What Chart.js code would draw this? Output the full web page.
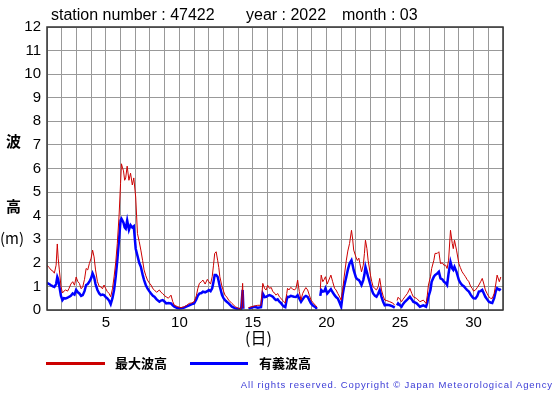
<!DOCTYPE html>
<html><head><meta charset="utf-8">
<script src="https://cdn.jsdelivr.net/npm/chart.js@4/dist/chart.umd.min.js"></script>
<style>
html,body{margin:0;padding:0;background:#fff;}
#wrap{position:relative;width:555px;height:395px;overflow:hidden;font-family:"Liberation Sans",Arial,sans-serif;}
canvas{position:absolute;left:0;top:0;}
.t{position:absolute;white-space:nowrap;color:#000;line-height:1;}
.cjk{font-family:"Noto Sans CJK JP",sans-serif;font-weight:bold;}
</style></head><body>
<div id="wrap">
<canvas id="c" width="555" height="395"></canvas>
<div class="t" style="left:51px;top:7px;font-size:16px;">station number : 47422</div>
<div class="t" style="left:246px;top:7px;font-size:16px;">year : 2022</div>
<div class="t" style="left:342px;top:7px;font-size:16px;">month : 03</div>
<div class="t cjk" style="left:6px;top:133px;font-size:15px;">波</div>
<div class="t cjk" style="left:6px;top:198px;font-size:15px;">高</div>
<div class="t cjk" style="left:0px;top:230px;font-size:15px;font-weight:normal;">(m)</div>
<div class="t cjk" style="left:245px;top:329px;font-size:16px;font-weight:normal;">(日)</div>
<div style="position:absolute;left:46px;top:362px;width:59px;height:3px;background:#cc0000;"></div>
<div class="t cjk" style="left:115px;top:356px;font-size:13px;">最大波高</div>
<div style="position:absolute;left:190px;top:362px;width:58px;height:3px;background:#0000ff;"></div>
<div class="t cjk" style="left:259px;top:356px;font-size:13px;">有義波高</div>
<div class="t" style="right:2px;top:380px;font-size:9.5px;letter-spacing:0.9px;color:#3b3bd6;">All rights reserved. Copyright © Japan Meteorological Agency</div>
</div>
<script>
// time in days (1 = 1st 00:00), gaps as null
const days = [1.0,1.15,1.27,1.4,1.5,1.62,1.7,1.76,1.84,1.95,2.05,2.15,2.27,2.4,2.5,2.62,2.75,2.87,2.98,3.1,3.2,3.32,3.43,3.55,3.66,3.77,3.88,4.0,4.1,4.2,4.3,4.43,4.55,4.66,4.77,4.88,5.0,5.1,5.22,5.33,5.45,5.56,5.67,5.78,5.9,6.0,6.06,6.12,6.2,6.28,6.35,6.45,6.57,6.68,6.8,6.9,7.03,7.15,7.27,7.38,7.5,7.6,7.72,7.83,7.95,8.07,8.2,8.3,8.45,8.64,8.75,8.86,9.0,9.1,9.25,9.43,9.55,9.66,9.89,10.1,10.33,10.5,10.67,10.85,11.0,11.15,11.25,11.36,11.5,11.6,11.75,11.9,12.0,12.12,12.23,12.32,12.4,12.5,12.6,12.68,12.75,12.9,13.0,13.1,13.22,13.35,13.57,13.8,14.02,14.2,14.3,14.35,14.5,14.7,15.1,15.33,15.55,15.67,15.8,15.9,16.0,16.12,16.25,16.35,16.5,16.57,16.68,16.8,16.9,17.0,17.1,17.2,17.3,17.35,17.45,17.57,17.68,17.8,17.92,18.04,18.15,18.27,18.38,18.5,18.6,18.72,18.85,18.95,19.1,19.25,19.35,19.45,19.58,19.64,19.75,19.85,19.93,20.05,20.16,20.3,20.42,20.55,20.65,20.77,20.9,21.0,21.1,21.2,21.35,21.45,21.57,21.7,21.78,21.85,22.0,22.1,22.2,22.27,22.38,22.5,22.58,22.65,22.75,22.83,22.99,23.08,23.17,23.3,23.4,23.52,23.62,23.74,23.85,23.96,24.1,24.3,24.5,24.64,24.72,24.8,24.87,25.0,25.1,25.2,25.33,25.5,25.67,25.8,25.9,26.13,26.35,26.58,26.77,26.85,26.93,27.07,27.15,27.3,27.38,27.53,27.64,27.75,27.88,27.98,28.1,28.2,28.3,28.43,28.55,28.62,28.7,28.84,29.0,29.1,29.22,29.35,29.45,29.55,29.68,29.8,29.9,30.0,30.13,30.25,30.36,30.48,30.59,30.7,30.8,30.92,31.04,31.15,31.27,31.4,31.5,31.6,31.75,31.85];
const maxWave = [1.9,1.8,1.7,1.65,1.56,1.9,2.8,2.2,1.7,1.0,0.72,0.8,0.85,0.8,0.92,1.1,1.2,1.05,1.4,1.2,1.13,0.9,0.98,1.3,1.76,1.7,1.97,2.2,2.54,2.25,1.7,1.2,1.0,0.98,0.9,1.06,0.9,0.78,0.7,0.56,0.9,1.4,2.0,2.82,4.0,5.37,6.2,6.06,5.9,5.5,5.6,6.1,5.5,5.8,5.3,5.6,4.79,3.24,2.9,2.54,2.1,1.7,1.45,1.27,1.15,1.06,0.9,0.85,0.75,0.85,0.75,0.7,0.6,0.56,0.5,0.63,0.35,0.2,0.14,0.1,0.14,0.2,0.28,0.3,0.35,0.6,0.9,1.13,1.2,1.27,1.1,1.3,1.2,1.1,1.41,1.9,2.4,2.47,2.11,1.8,1.41,0.99,0.8,0.63,0.55,0.42,0.28,0.14,0.07,0.06,1.13,0.08,null,0.1,0.17,0.2,0.2,1.13,0.9,0.85,1.05,0.92,0.95,0.78,0.7,0.63,0.7,0.56,0.5,0.42,0.35,0.3,0.7,0.92,0.85,0.96,0.9,0.85,0.9,1.27,0.78,0.42,0.7,0.85,0.95,0.85,0.6,0.42,0.3,0.2,0.12,null,0.9,1.48,1.2,1.3,1.41,1.1,1.27,1.48,1.2,0.92,0.85,0.7,0.55,0.42,0.85,1.4,2.11,2.5,2.82,3.38,3.0,2.54,2.25,2.1,2.2,1.97,1.62,1.9,2.4,2.96,2.6,2.11,1.48,1.2,0.99,0.9,0.85,1.0,1.34,0.85,0.6,0.42,0.4,0.35,0.3,0.2,null,0.4,0.54,0.45,0.35,0.45,0.56,0.7,0.92,0.7,0.56,0.49,0.35,0.42,0.28,0.6,1.06,1.41,1.76,2.11,2.4,2.4,2.47,1.97,2.0,1.9,1.9,1.76,2.11,3.38,2.82,2.6,2.96,2.54,1.97,1.8,1.62,1.5,1.41,1.3,1.2,1.0,0.92,0.8,0.85,0.95,1.06,1.2,1.34,1.1,0.85,0.7,0.56,0.5,0.49,0.7,1.06,1.48,1.2,1.4];
const sigWave = [1.15,1.1,1.05,1.0,0.98,1.1,1.4,1.3,1.0,0.6,0.42,0.5,0.49,0.52,0.56,0.6,0.7,0.65,0.85,0.75,0.7,0.6,0.63,0.8,1.06,1.1,1.2,1.35,1.55,1.4,1.1,0.85,0.7,0.63,0.65,0.63,0.55,0.49,0.4,0.25,0.5,0.85,1.4,2.1,3.0,3.8,3.87,3.8,3.7,3.5,3.45,3.8,3.4,3.6,3.5,3.55,2.6,2.3,2.0,1.83,1.5,1.27,1.05,0.92,0.8,0.7,0.6,0.56,0.45,0.35,0.4,0.42,0.35,0.28,0.3,0.28,0.2,0.14,0.07,0.07,0.1,0.15,0.2,0.25,0.28,0.45,0.6,0.7,0.72,0.78,0.75,0.8,0.85,0.8,0.92,1.2,1.48,1.48,1.41,1.2,0.99,0.63,0.5,0.42,0.35,0.28,0.14,0.07,0.04,0.04,0.85,0.05,null,0.06,0.14,0.1,0.12,0.7,0.55,0.56,0.6,0.63,0.6,0.56,0.45,0.42,0.45,0.35,0.3,0.21,0.15,0.12,0.45,0.56,0.55,0.6,0.58,0.56,0.55,0.63,0.49,0.35,0.45,0.56,0.6,0.56,0.4,0.28,0.18,0.12,0.05,null,0.6,0.85,0.78,0.8,0.92,0.7,0.78,0.88,0.75,0.63,0.55,0.49,0.3,0.14,0.63,1.0,1.41,1.7,1.97,2.11,1.9,1.69,1.38,1.3,1.27,1.2,1.06,1.27,1.5,1.83,1.6,1.41,1.06,0.85,0.7,0.6,0.56,0.7,0.85,0.56,0.35,0.2,0.22,0.2,0.15,0.1,null,0.2,0.28,0.2,0.14,0.25,0.35,0.45,0.56,0.45,0.35,0.28,0.14,0.2,0.14,0.3,0.56,0.85,1.2,1.41,1.48,1.55,1.62,1.34,1.3,1.2,1.15,1.06,1.55,2.04,1.76,1.7,1.83,1.62,1.27,1.15,1.06,1.0,0.92,0.85,0.78,0.65,0.56,0.5,0.49,0.6,0.78,0.8,0.85,0.7,0.56,0.45,0.35,0.32,0.3,0.5,0.78,0.92,0.85,0.9];
const yTicks = [0,1,2,3,4,5,6,7,8,9,10,11,12];
const xLabelDays = [5,10,15,20,25,30];

const toPts = arr => days.map((d,i)=>({x:d,y:arr[i]}));

const frame = {
  id:'frame',
  afterDraw(chart){
    const {ctx, chartArea:a} = chart;
    ctx.save();
    ctx.strokeStyle='#333';
    ctx.lineWidth=1.5;
    ctx.strokeRect(a.left,a.top,a.right-a.left,a.bottom-a.top);
    ctx.restore();
  }
};

new Chart(document.getElementById('c'),{
  type:'line',
  data:{datasets:[
    {label:'最大波高',data:toPts(maxWave),borderColor:'#cc0000',borderWidth:1,pointRadius:0,tension:0,spanGaps:false,order:1},
    {label:'有義波高',data:toPts(sigWave),borderColor:'#0000ff',borderWidth:2.5,pointRadius:0,tension:0,spanGaps:false,order:2}
  ]},
  options:{
    responsive:false,animation:false,devicePixelRatio:1,
    layout:{padding:{left:0,top:27,right:52,bottom:55}},
    plugins:{legend:{display:false},title:{display:false},tooltip:{enabled:false}},
    scales:{
      x:{type:'linear',min:1,max:32,
        afterFit(s){s.height=30;},
        grid:{color:'#999',lineWidth:1,drawTicks:false},
        border:{display:false},
        ticks:{stepSize:1,autoSkip:false,maxRotation:0,padding:4,color:'#000',
          font:{family:'"Liberation Sans", Arial, sans-serif',size:15},
          callback:v=>xLabelDays.includes(v)?String(v):''}
      },
      y:{min:0,max:12,
        afterFit(s){s.width=47;},
        afterBuildTicks(s){s.ticks=yTicks.map(v=>({value:v}));},
        grid:{color:'#999',lineWidth:1,drawTicks:false},
        border:{display:false},
        ticks:{padding:6,color:'#000',font:{family:'"Liberation Sans", Arial, sans-serif',size:15}}
      }
    }
  },
  plugins:[frame]
});
</script>
</body></html>
